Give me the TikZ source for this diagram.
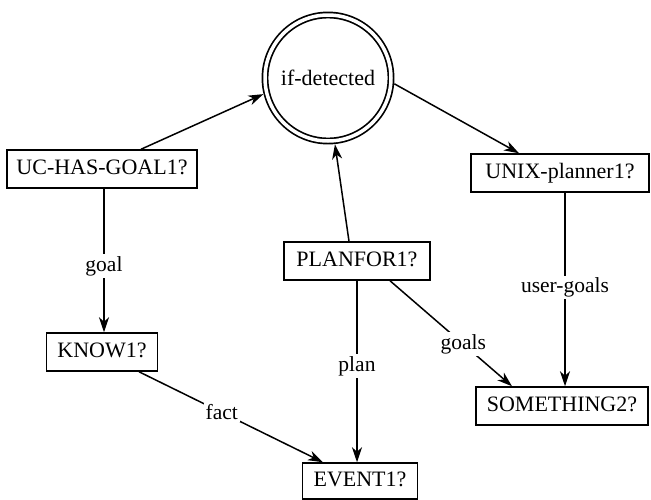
\documentclass[tikz,border=0pt]{standalone}
\usepackage{fontspec}
\setmainfont{Liberation Serif}
\usetikzlibrary{arrows.meta}
\begin{document}
\begin{tikzpicture}[x=1pt,y=-1pt,
  box/.style={draw, line width=1.5pt, inner sep=0pt, minimum height=38pt,
    text height=15pt, text depth=4pt, font=\fontsize{22}{26}\selectfont},
  lbl/.style={fill=white, inner sep=2pt, font=\fontsize{21.5}{25}\selectfont},
  arr/.style={line width=1.5pt, -{Stealth[length=15pt,width=10pt,inset=4.5pt]}},
  ]
\useasboundingbox (0,0) rectangle (651,499);
\node[draw, circle, line width=1.7pt, double, double distance=3.5pt,
  minimum size=126pt, inner sep=0pt, outer sep=3.6pt,
  font=\fontsize{22}{26}\selectfont] (circ) at (328,78) {if-detected};
\node[box, minimum width=190pt] (uc) at (102,169) {UC-HAS-GOAL1?};
\node[box, minimum width=178pt] (unix) at (560,173) {UNIX-planner1?};
\node[box, minimum width=146pt] (plan) at (357,261) {PLANFOR1?};
\node[box, minimum width=111pt] (know) at (102,352) {KNOW1?};
\node[box, minimum width=172pt] (some) at (562,406) {SOMETHING2?};
\node[box, minimum width=115pt, minimum height=36pt] (event) at (360,481) {EVENT1?};

\draw[arr] ([xshift=39pt]uc.north) -- (circ.194);
\draw[arr] (circ.-5) -- ([xshift=-41pt]unix.north);
\draw[arr] ([xshift=-8pt]plan.north) -- (circ.276);
\draw[arr] ([xshift=2pt]uc.south) -- node[lbl, pos=0.54]{goal} ([xshift=2pt]know.north);
\draw[arr] ([xshift=5pt]unix.south) -- node[lbl, pos=0.49]{user-goals} ([xshift=3pt]some.north);
\draw[arr] (plan.south) -- node[lbl, pos=0.47]{plan} ([xshift=-3pt]event.north);
\draw[arr] ([xshift=33pt]plan.south) -- node[lbl, pos=0.6]{goals} ([xshift=-50pt]some.north);
\draw[arr] ([xshift=37pt]know.south) -- node[lbl, pos=0.45]{fact} ([xshift=-37pt]event.north);
\end{tikzpicture}
\end{document}
